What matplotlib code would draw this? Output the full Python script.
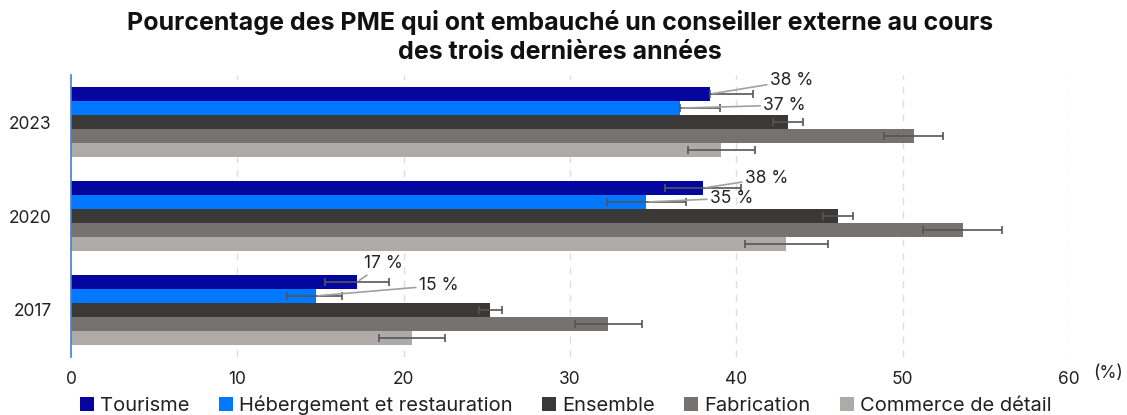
import matplotlib.pyplot as plt
import numpy as np

plt.rcParams['font.family'] = ['Inter', 'DejaVu Sans']

years = ['2017', '2020', '2023']
series = ['Tourisme', 'Hébergement et restauration', 'Ensemble', 'Fabrication', 'Commerce de détail']
colors = ['#0505A0', '#0078FF', '#3B3938', '#767270', '#ADAAA8']

# values per series, ordered 2017, 2020, 2023
tourisme = [17.2, 38.0, 38.4]
hebergement = [14.7, 34.6, 36.6]
ensemble = [25.2, 46.1, 43.1]
fabrication = [32.3, 53.6, 50.7]
commerce = [20.5, 43.0, 39.1]
values = [tourisme, hebergement, ensemble, fabrication, commerce]

# error bar ends (low, high)
err_low = [[15.3, 35.7, 38.4], [13.0, 32.2, 36.6], [24.5, 45.2, 42.2], [30.3, 51.2, 48.9], [18.5, 40.5, 37.1]]
err_high = [[19.1, 40.3, 41.0], [16.3, 37.0, 39.0], [25.9, 47.0, 44.0], [34.3, 56.0, 52.4], [22.5, 45.5, 41.1]]

# labelled bars: (series index, year index, text, label x, label y)
labels = [
    (0, 2, '38 %', 42.0, 2.44),
    (1, 2, '37 %', 41.6, 2.18),
    (0, 1, '38 %', 40.5, 1.40),
    (1, 1, '35 %', 38.4, 1.19),
    (0, 0, '17 %', 17.6, 0.49),
    (1, 0, '15 %', 20.9, 0.26),
]

fig = plt.figure(figsize=(11.27, 4.15), dpi=100)
ax = fig.add_axes([0.063, 0.140, 0.8855, 0.679])

y = np.arange(len(years))
h = 0.149
offsets = [2 * h, h, 0, -h, -2 * h]

for i, name in enumerate(series):
    vals = np.array(values[i])
    lo = vals - np.array(err_low[i])
    hi = np.array(err_high[i]) - vals
    ax.barh(y + offsets[i], vals, height=h, color=colors[i], label=name, zorder=2)
    ax.errorbar(vals, y + offsets[i], xerr=[lo, hi], fmt='none', ecolor='#555555',
                elinewidth=1.2, capsize=3, capthick=1.2, zorder=3)

for si, yi, txt, lx, ly in labels:
    bx = values[si][yi]
    by = y[yi] + offsets[si]
    ax.annotate(txt, xy=(bx, by), xytext=(lx, ly), textcoords='data',
                fontsize=12.5, color='#222222', va='center', ha='left',
                arrowprops=dict(arrowstyle='-', color='#A0A0A0', lw=1.2,
                                shrinkA=0, shrinkB=2))

ax.set_xlim(0, 60)
ax.set_ylim(-0.5, 2.5)
ax.set_xticks(range(0, 61, 10))
ax.set_yticks(y)
ax.set_yticklabels(years)
ax.tick_params(axis='both', length=0, labelsize=12.5, colors='#222222')
ax.tick_params(axis='x', pad=10)
ax.tick_params(axis='y', pad=14)
ax.grid(axis='x', linestyle=(0, (5, 5)), color='#DDDDDD', lw=1, zorder=0)
for s in ['top', 'right', 'bottom']:
    ax.spines[s].set_visible(False)
ax.spines['left'].set_color('#4A7FD0')
ax.spines['left'].set_linewidth(1.2)

fig.text(0.983, 0.088, '(%)', fontsize=12.5, color='#222222', ha='center')

fig.suptitle('Pourcentage des PME qui ont embauché un conseiller externe au cours\ndes trois dernières années',
             x=0.497, y=0.975, fontsize=18, fontweight='bold', color='#111111', linespacing=1.3)

fig.legend(loc='center', bbox_to_anchor=(0.502, 0.024), ncol=5, frameon=False,
           fontsize=14.5, handlelength=0.7, handleheight=0.7, handletextpad=0.3,
           columnspacing=1.45, labelcolor='#222222', borderpad=0)

fig.savefig('out.png', dpi=100)
